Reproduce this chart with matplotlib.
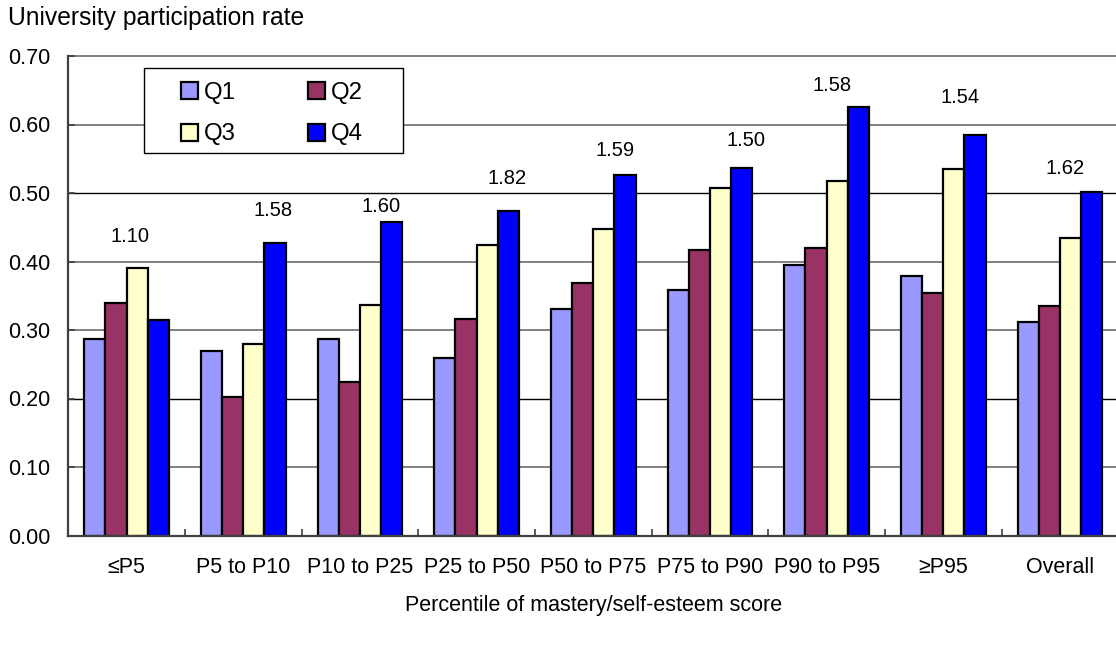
import matplotlib
matplotlib.use("Agg")
import matplotlib.pyplot as plt
import matplotlib.patches as mpatches
import numpy as np

plt.rcParams['font.family'] = ['Liberation Sans', 'DejaVu Sans']

categories = ["≤P5", "P5 to P10", "P10 to P25", "P25 to P50", "P50 to P75",
              "P75 to P90", "P90 to P95", "≥P95", "Overall"]
series_names = ["Q1", "Q2", "Q3", "Q4"]
q1 = [0.287, 0.270, 0.287, 0.259, 0.331, 0.358, 0.395, 0.379, 0.311]
q2 = [0.340, 0.202, 0.224, 0.316, 0.369, 0.417, 0.419, 0.354, 0.335]
q3 = [0.391, 0.279, 0.336, 0.424, 0.447, 0.507, 0.518, 0.535, 0.434]
q4 = [0.315, 0.427, 0.458, 0.473, 0.527, 0.537, 0.625, 0.585, 0.502]
ratio_labels = ["1.10", "1.58", "1.60", "1.82", "1.59", "1.50", "1.58", "1.54", "1.62"]

# layout of the ratio annotations (data coords)
label_x = [0.029, 1.254, 2.180, 3.259, 4.185, 5.307, 6.050, 7.141, 8.047]
label_y = [0.436, 0.475, 0.480, 0.521, 0.562, 0.576, 0.657, 0.639, 0.536]

colors = ["#9999FF", "#993366", "#FFFFCC", "#0000FF"]
FS = 15.5
LFS = 17.3

W, H = 1116, 646
fig = plt.figure(figsize=(W / 100, H / 100), dpi=100)
ax = fig.add_axes([68.3 / W, (H - 535.5) / H, 1050 / W, (535.5 - 56) / H])

x = np.arange(len(categories))
bw = 0.1815
offsets = [-1.5 * bw, -0.5 * bw, 0.5 * bw, 1.5 * bw]
handles = []
for vals, off, col, name in zip([q1, q2, q3, q4], offsets, colors, series_names):
    b = ax.bar(x + off, vals, width=bw, color=col, edgecolor="black",
               linewidth=1.6, zorder=3, label=name)
    handles.append(b)

ax.set_xlim(-0.5, len(categories) - 0.5)
ax.set_ylim(0, 0.70)
yt = np.round(np.arange(0, 0.71, 0.1), 2)
ax.set_yticks(yt)
ax.set_yticklabels([f"{v:.2f}" for v in yt], fontsize=FS)
grid_cols = ["#808080", "#808080", "#000000", "#808080", "#808080", "#000000", "#808080", "#808080"]
for v, gc in zip(yt[1:], grid_cols[1:]):
    ax.axhline(v, color=gc, lw=1.0 if gc == "#000000" else 1.4, zorder=1, clip_on=False)

ax.set_xticks(x)
ax.set_xticklabels(categories, fontsize=FS)
ax.set_xticks(np.arange(0.5, len(categories) - 0.5, 1), minor=True)
ax.tick_params(axis='x', which='major', length=0, pad=15.5)
ax.tick_params(axis='x', which='minor', direction='in', length=5, width=1.2, color="#404040")
ax.tick_params(axis='y', which='major', direction='in', length=5, width=1.2, color="#404040", pad=13)

for s in ["top", "right"]:
    ax.spines[s].set_visible(False)
for s in ["left", "bottom"]:
    ax.spines[s].set_color("#404040")
    ax.spines[s].set_linewidth(1.6)
    ax.spines[s].set_zorder(4)

ax.set_xlabel("Percentile of mastery/self-esteem score", fontsize=FS, labelpad=12.5)

for lx, ly, lt in zip(label_x, label_y, ratio_labels):
    ax.text(lx, ly, lt, ha="center", va="center", fontsize=14.5, zorder=5)

fig.text(7.5 / W, 1 - 18.3 / H, "University participation rate", ha="left", va="center", fontsize=17.7)

# legend box
rect = mpatches.Rectangle((144.3 / W, (H - 153.3) / H), 258.4 / W, 85 / H,
                          transform=fig.transFigure, facecolor="white",
                          edgecolor="black", linewidth=1.0, zorder=6, clip_on=False)
ax.add_patch(rect)
order = [0, 2, 1, 3]  # fill legend row by row
leg = ax.legend(handles=[handles[i] for i in order], labels=[series_names[i] for i in order],
                ncol=2, frameon=False,
                loc="upper left", bbox_to_anchor=(181.0 / W, 1 - 81.5 / H),
                bbox_transform=fig.transFigure, borderpad=0, borderaxespad=0,
                handlelength=0.71, handleheight=0.71, handletextpad=0.25,
                columnspacing=3.0, labelspacing=0.83, fontsize=LFS)
leg.set_zorder(7)

fig.savefig("out.png", dpi=100)
